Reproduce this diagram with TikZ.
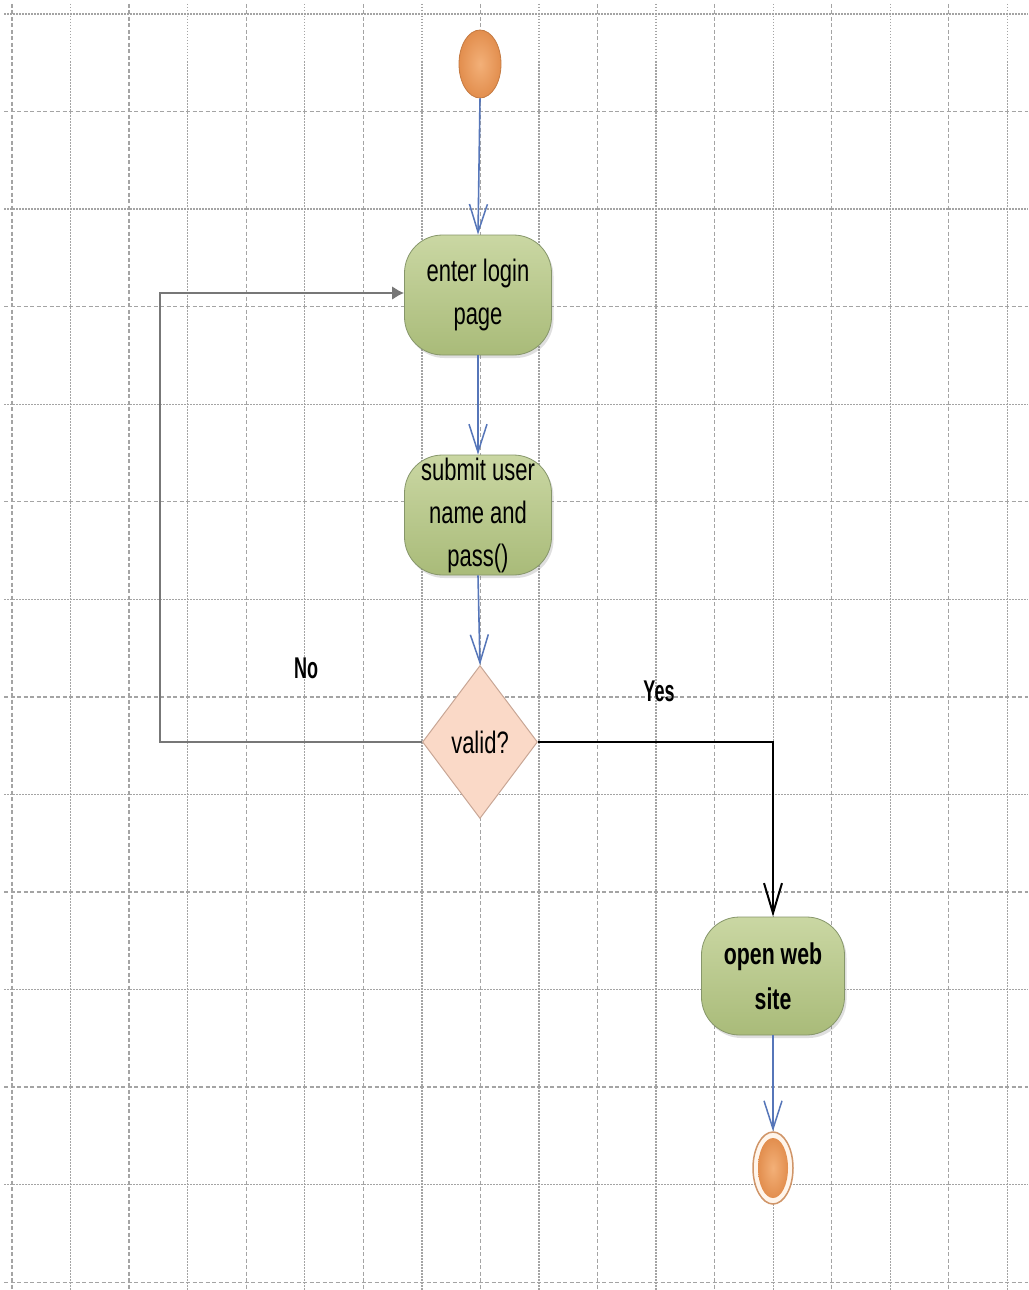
\documentclass[tikz,border=0pt]{standalone}
\usepackage{fontspec}
\setmainfont{Liberation Sans}
\newfontfamily\actfont[FakeStretch=0.71]{Liberation Sans}
\newfontfamily\guardfont[FakeStretch=0.6]{Liberation Sans}
\usetikzlibrary{arrows.meta,shapes.geometric,shadows}

\definecolor{gridgray}{HTML}{A4A4A4}
\definecolor{acttop}{HTML}{CAD7A3}
\definecolor{actbot}{HTML}{A9BB79}
\definecolor{actedge}{HTML}{86966A}
\definecolor{decfill}{HTML}{FAD9C7}
\definecolor{decedge}{HTML}{C9A796}
\definecolor{dotin}{HTML}{F3B078}
\definecolor{dotout}{HTML}{E28E4E}
\definecolor{dotedge}{HTML}{C47A42}
\definecolor{flowblue}{HTML}{5676B9}
\definecolor{backgray}{HTML}{777777}

\tikzset{
  gridmajor/.style={gridgray, line width=1.3pt, dash pattern=on 4pt off 2.5pt},
  gridminor/.style={gridgray, line width=1.3pt, dash pattern=on 1.5pt off 1.5pt},
  activity/.style={rectangle, rounded corners=38pt, draw=actedge, line width=0.8pt,
    top color=acttop, bottom color=actbot, minimum width=147pt, minimum height=120pt,
    inner sep=0pt, align=center, font=\actfont\fontsize{31}{43}\selectfont,
    drop shadow={shadow xshift=2pt, shadow yshift=-3pt, opacity=0.25}},
  decision/.style={diamond, draw=decedge, line width=1pt, fill=decfill,
    minimum width=115pt, minimum height=153pt, inner sep=0pt,
    font=\actfont\fontsize{31}{43}\selectfont},
  initial/.style={ellipse, draw=dotedge, line width=0.8pt, inner color=dotin, outer color=dotout,
    minimum width=42pt, minimum height=68pt, inner sep=0pt},
  finalring/.style={ellipse, draw=dotedge!80, line width=1.5pt, fill=orange!8,
    minimum width=40pt, minimum height=72pt, inner sep=0pt},
  finaldot/.style={ellipse, draw=none, inner color=dotin, outer color=dotout,
    minimum width=30pt, minimum height=60pt, inner sep=0pt},
  flow/.style={flowblue, line width=1.6pt, -{Straight Barb[length=28pt,width=18pt,line width=1.5pt]}},
  backflow/.style={backgray, line width=2.8pt, -{Latex[length=12pt,width=14pt]}},
  yesflow/.style={black, line width=2.6pt, -{Straight Barb[length=30pt,width=18pt,line width=2pt]}},
  guard/.style={font=\guardfont\bfseries\fontsize{30}{34}\selectfont}
}

\begin{document}
\begin{tikzpicture}[x=1pt, y=-1pt]
  % page
  \fill[white] (0,0) rectangle (1028,1290);
  \useasboundingbox (0,0) rectangle (1028,1290);

  % background grid
  \foreach \i in {0,...,13} {
    \pgfmathsetmacro\yy{14+97.55*\i}
    \ifodd\i
      \draw[gridmajor] (4,\yy) -- (1028,\yy);
    \else
      \draw[gridminor] (4,\yy) -- (1028,\yy);
    \fi
  }
  \foreach \j in {0,...,17} {
    \pgfmathsetmacro\xx{12+58.55*\j}
    \ifodd\j
      \draw[gridminor] (\xx,4) -- (\xx,1290);
    \else
      \draw[gridmajor] (\xx,4) -- (\xx,1290);
    \fi
  }

  % nodes
  \node[initial] (start) at (480,64) {};
  \node[activity] (enter) at (478,295) {enter login\\page};
  \node[activity] (submit) at (478,515) {submit user\\name and\\pass()};
  \node[decision] (valid) at (480,742) {valid?};
  \node[activity, font=\actfont\bfseries\fontsize{30}{45}\selectfont,
        minimum width=143pt, minimum height=118pt] (web) at (773,976) {open web\\site};
  \node[finalring] (final) at (773,1168) {};
  \node[finaldot] (finalin) at (final.center) {};

  % guard labels
  \node[guard] (nolbl) at (306,668) {No};
  \node[guard] (yeslbl) at (659,691) {Yes};

  % connectors
  \draw[flow] (start.south) -- (enter.north);
  \draw[flow] (enter.south) -- (submit.north);
  \draw[flow] (submit.south) -- (valid.north);
  \coordinate (nolow) at (160,742);
  \coordinate (nohigh) at (160,293);
  \draw[backflow] (valid.west) -- (nolow) -- (nohigh) -- (nohigh -| enter.west);
  \draw[yesflow] (valid.east) -| (web.north);
  \draw[flow] (web.south) -- (final.north);
\end{tikzpicture}
\end{document}
